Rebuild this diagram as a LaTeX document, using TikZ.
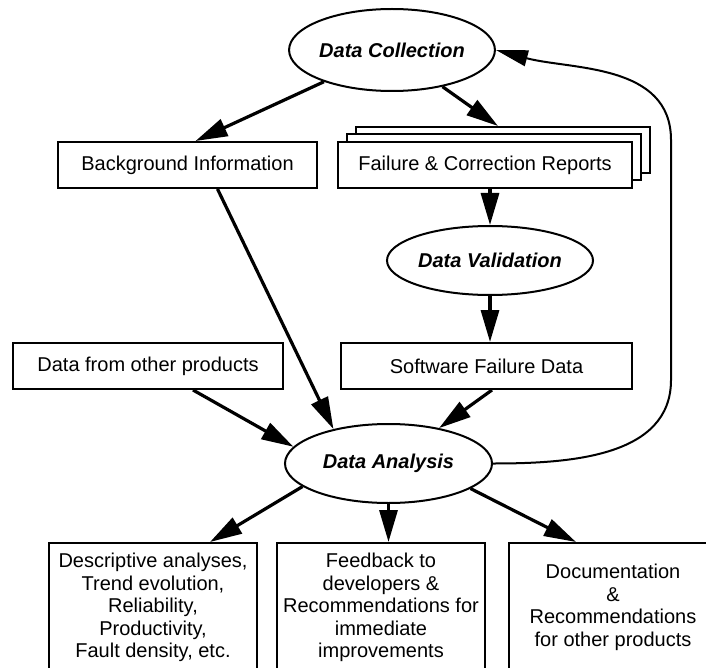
\documentclass[tikz,border=0pt]{standalone}
\usepackage{fontspec}
\setmainfont{Liberation Sans}
\usetikzlibrary{arrows.meta,shapes.geometric,shadows}
\newcommand{\linew}{1pt}
\newcommand{\arrw}{1.6pt}
\tikzset{
    box/.style={draw, rectangle, line width=\linew, inner sep=0pt, fill=white},
    proc/.style={draw, ellipse, line width=\linew, inner sep=0pt, font=\bfseries\itshape},
    result/.style={box, align=center, minimum width=104pt, minimum height=64.5pt,
        font=\fontsize{10pt}{11.25pt}\selectfont},
    arr/.style={line width=\arrw, -{Triangle[length=16pt,width=9pt]}}
}

\begin{document}
\begin{tikzpicture}[x=0.5pt,y=-0.5pt]
    \useasboundingbox (0,0) rectangle (706,668);

    %Processes
    \node[proc, minimum width=101pt, minimum height=41pt] (dc) at (392,50) {Data Collection};
    \node[proc, minimum width=103pt, minimum height=34.5pt] (dv) at (490,260.5) {Data Validation};
    \node[proc, minimum width=103.5pt, minimum height=39.5pt] (da) at (388.5,463.5) {Data Analysis};

    %Boxes
    \node[box, minimum width=129.5pt, minimum height=23pt] (bg) at (187.5,165) {Background Information};
    \node[box, minimum width=147pt, minimum height=23pt,
        copy shadow={shadow xshift=9pt, shadow yshift=7.5pt, line width=\linew},
        copy shadow={shadow xshift=4.5pt, shadow yshift=3.75pt, line width=\linew}]
        (fr) at (485,165) {Failure \& Correction Reports};
    \node[box, minimum width=145.5pt, minimum height=23pt] (sfd) at (486.5,366) {Software Failure Data};
    \node[box, minimum width=135pt, minimum height=23pt] (op) at (148,366) {Data from other products};

    %Results
    \node[result] (res1) at (153,607.5) {Descriptive analyses,\\Trend evolution,\\Reliability,\\Productivity,\\Fault density, etc.};
    \node[result] (res2) at (381,607.5) {Feedback to\\developers \&\\Recommendations for\\immediate\\improvements};
    \node[result] (res3) at (613,607.5) {Documentation\\\&\\Recommendations\\for other products};

    %Arrows
    \draw[arr] (dc.205) -- ([xshift=4pt]bg.north);
    \draw[arr] (dc.-36) -- ([xshift=6.5pt,yshift=7.5pt]fr.north);
    \draw[arr] (dv.north |- fr.south) -- (dv.north);
    \draw[arr] (dv.south) -- (dv.south |- sfd.north);
    \draw[arr] ([xshift=15pt]bg.south) -- (da.148);
    \draw[arr] ([xshift=22.5pt]op.south) -- (da.170);
    \draw[arr] ([xshift=2.75pt]sfd.south) -- (da.35);
    \draw[arr] (da.195) -- ([xshift=28.5pt]res1.north);
    \draw[arr] (da.south) -- (da.south |- res2.north);
    \draw[arr] (da.-17) -- ([xshift=-18.5pt]res3.north);

    %Feedback loop
    \coordinate (fb1) at (671,380);
    \coordinate (fb2) at (671,140);
    \draw[line width=\linew, -{Triangle[length=16pt,width=8pt]}]
        (da.east) to[out=0,in=-90] (fb1) -- (fb2) to[out=90,in=-15] (dc.east);
\end{tikzpicture}
\end{document}
